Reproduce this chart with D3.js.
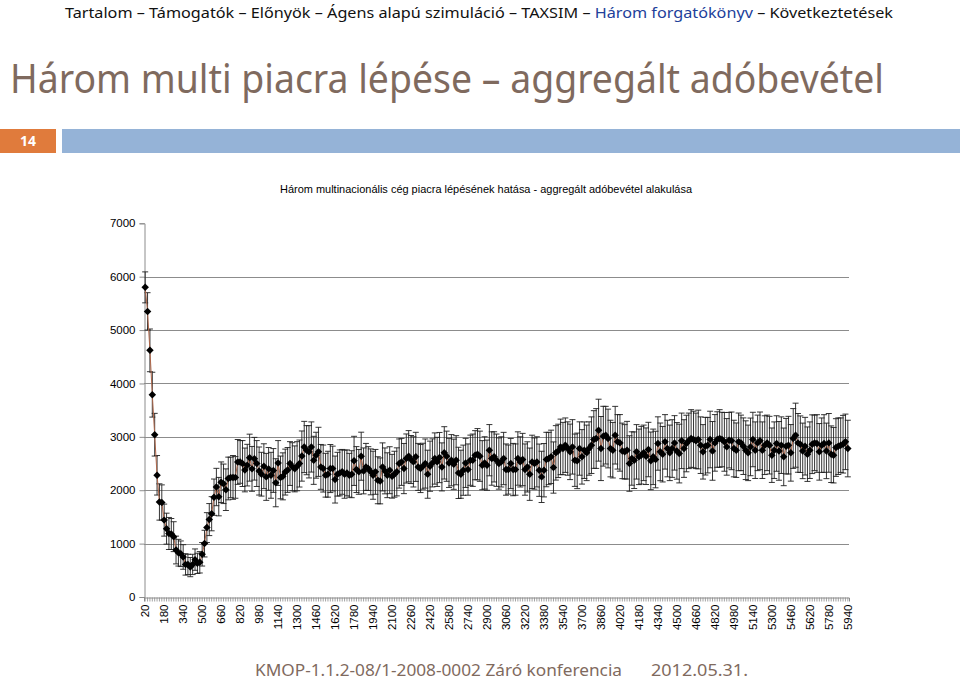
<!DOCTYPE html>
<html>
<head>
<meta charset="utf-8">
<script src="https://cdn.jsdelivr.net/npm/d3@7"></script>
<style>
  html, body { margin: 0; padding: 0; background: #fff; }
  svg { display: block; }
</style>
</head>
<body>
<svg id="chart" width="960" height="681"></svg>
<script>
// ---------- data ----------
const navItems = ["Tartalom", "Támogatók", "Előnyök", "Ágens alapú szimuláció", "TAXSIM", "Három forgatókönyv", "Következtetések"];
const navActive = "Három forgatókönyv";
const slideTitle = "Három multi piacra lépése – aggregált adóbevétel";
const slideNumber = "14";
const chartTitle = "Három multinacionális cég piacra lépésének hatása - aggregált adóbevétel alakulása";
const footerText = "KMOP-1.1.2-08/1-2008-0002 Záró konferencia";
const footerDate = "2012.05.31.";

const categories = d3.range(20, 5941, 20).map(String);          // 20 .. 5940
const xTickLabels = d3.range(20, 5941, 160).map(String);        // every 8th label
const yTicks = [0, 1000, 2000, 3000, 4000, 5000, 6000, 7000];
const gridValues = [1000, 2000, 3000, 4000, 5000, 6000];

const revenue = [
  5800,5350,4620,3790,3040,2280,1780,1770,1440,1280,
  1190,1180,1130,880,830,810,750,610,610,560,
  610,700,630,650,800,1000,1300,1450,1560,1870,
  2060,1880,2150,2120,2010,2220,2240,2240,2240,2530,
  2530,2500,2380,2470,2610,2400,2590,2500,2360,2300,
  2450,2250,2400,2280,2370,2140,2510,2240,2260,2340,
  2380,2500,2440,2400,2450,2500,2640,2810,2750,2720,
  2810,2560,2656,2719,2437,2406,2281,2300,2406,2406,
  2200,2300,2325,2344,2300,2325,2281,2300,2550,2387,
  2344,2637,2362,2437,2406,2344,2281,2344,2187,2175,
  2437,2362,2281,2375,2262,2300,2344,2500,2531,2406,
  2594,2637,2575,2531,2625,2437,2406,2450,2500,2300,
  2450,2512,2594,2531,2612,2437,2700,2637,2512,2562,
  2487,2562,2325,2300,2375,2512,2387,2562,2562,2656,
  2675,2637,2469,2512,2469,2750,2594,2625,2562,2500,
  2531,2594,2387,2387,2500,2387,2387,2594,2531,2575,
  2387,2437,2300,2531,2500,2531,2375,2250,2375,2575,
  2594,2625,2425,2700,2737,2812,2781,2844,2781,2719,
  2812,2562,2550,2781,2625,2750,2700,2781,2844,2950,
  2969,3125,2781,3012,3031,2969,2781,2750,3031,2906,
  2887,2737,2719,2750,2500,2594,2562,2719,2625,2656,
  2700,2637,2762,2550,2625,2575,2875,2719,2675,2906,
  2781,2700,2781,2887,2737,2687,2925,2781,2875,2925,
  2969,2950,2925,2950,2844,2719,2825,2844,2950,2737,
  2887,2950,2969,2950,2906,2812,2937,2925,2781,2750,
  2906,2887,2825,2750,2700,2812,2950,2750,2887,2925,
  2750,2844,2887,2844,2656,2750,2875,2737,2844,2625,
  2825,2844,2700,2969,3031,2887,2862,2737,2825,2675,
  2750,2862,2887,2875,2719,2844,2875,2737,2887,2675,
  2656,2800,2825,2844,2862,2906,2781
];

const stdDev = [
  290,350,400,420,400,370,340,330,300,290,
  300,290,280,260,250,240,230,200,190,180,
  190,200,190,200,220,250,280,300,320,340,
  350,360,380,370,390,400,380,410,390,420,
  400,430,410,390,440,420,400,430,450,410,
  420,440,400,430,410,450,420,400,440,430,
  420,410,450,430,460,440,470,480,460,490,
  470,450,430,460,420,440,410,430,450,420,
  440,410,430,420,450,430,410,440,460,430,
  420,450,430,440,410,430,450,420,440,430,
  450,430,420,440,410,430,450,460,440,470,
  460,480,450,470,460,440,450,430,460,450,
  470,450,480,460,470,450,490,470,460,480,
  470,460,480,450,470,460,480,470,490,460,
  480,470,460,490,470,480,500,470,490,480,
  470,490,480,460,470,490,480,500,470,490,
  480,470,490,500,480,470,490,480,500,510,
  490,500,480,510,500,520,490,510,500,520,
  510,490,520,500,510,530,520,500,530,540,
  560,580,600,560,540,550,530,520,540,510,
  530,520,510,540,520,500,530,510,520,540,
  520,530,510,540,520,530,500,540,520,510,
  530,520,540,510,530,550,520,540,530,520,
  540,530,520,550,530,510,540,520,530,550,
  530,520,540,510,550,530,520,540,530,510,
  540,520,530,550,520,540,510,530,520,540,
  530,550,520,540,510,530,520,550,530,540,
  520,540,530,560,600,550,530,520,540,510,
  530,550,520,540,530,510,540,520,550,530,
  520,540,530,510,540,520,530
];

const series = categories.map((c, i) => ({ cat: c, v: revenue[i], e: stdDev[i] }));

// ---------- drawing ----------
const svg = d3.select("#chart");
const brown = "#7f6a5e";

// navigation line
const nav = svg.append("text")
  .attr("x", 65).attr("y", 18)
  .attr("font-family", "'Noto Sans', 'DejaVu Sans', sans-serif")
  .attr("font-size", 15)
  .attr("textLength", 828)
  .attr("lengthAdjust", "spacingAndGlyphs");
navItems.forEach((item, i) => {
  nav.append("tspan")
    .attr("fill", item === navActive ? "#22409a" : "#111")
    .text(item);
  if (i < navItems.length - 1) nav.append("tspan").attr("fill", "#111").text(" – ");
});

// slide title
svg.append("text")
  .attr("x", 10).attr("y", 93)
  .attr("font-family", "'Noto Sans', 'DejaVu Sans', sans-serif")
  .attr("font-size", 40)
  .attr("fill", brown)
  .attr("textLength", 874)
  .attr("lengthAdjust", "spacingAndGlyphs")
  .text(slideTitle);

// number bar
svg.append("rect").attr("x", 0).attr("y", 129).attr("width", 56).attr("height", 24).attr("fill", "#e07b3c");
svg.append("rect").attr("x", 62).attr("y", 129).attr("width", 898).attr("height", 24).attr("fill", "#95b3d7");
svg.append("text")
  .attr("x", 28).attr("y", 146)
  .attr("text-anchor", "middle")
  .attr("font-family", "'Noto Sans', 'DejaVu Sans', sans-serif")
  .attr("font-weight", "bold")
  .attr("font-size", 14)
  .attr("fill", "#fff")
  .text(slideNumber);

// chart title
svg.append("text")
  .attr("x", 486).attr("y", 193)
  .attr("text-anchor", "middle")
  .attr("font-family", "'Liberation Sans', Arial, sans-serif")
  .attr("font-size", 10.5)
  .attr("fill", "#000")
  .attr("textLength", 412)
  .attr("lengthAdjust", "spacingAndGlyphs")
  .text(chartTitle);

// scales
const x = d3.scaleBand().domain(categories).range([144, 849]).padding(0);
const y = d3.scaleLinear().domain([0, 7000]).range([597, 223.3]);
const cx = d => x(d) + x.bandwidth() / 2;

// gridlines
svg.append("g").selectAll("line").data(gridValues).join("line")
  .attr("x1", 144).attr("x2", 849)
  .attr("y1", d => Math.round(y(d)) + 0.5).attr("y2", d => Math.round(y(d)) + 0.5)
  .attr("stroke", "#8c8c8c").attr("stroke-width", 1);

// y axis
const yAxis = d3.axisLeft(y).tickValues(yTicks).tickSize(5).tickPadding(4).tickFormat(d3.format("d"));
const gy = svg.append("g").attr("transform", "translate(144.5,0)").call(yAxis);
gy.select(".domain").attr("stroke", "#8c8c8c");
gy.selectAll(".tick line").attr("stroke", "#8c8c8c");
gy.selectAll("text").attr("font-family", "'Liberation Sans', Arial, sans-serif").attr("font-size", 11.5).attr("fill", "#000");

// x axis
const xAxis = d3.axisBottom(x).tickSize(4).tickPadding(3)
  .tickFormat(d => xTickLabels.includes(d) ? d : "");
const gx = svg.append("g").attr("transform", "translate(0,597.5)").call(xAxis);
gx.select(".domain").attr("stroke", "#8c8c8c");
gx.selectAll(".tick line").attr("stroke", "#8c8c8c").attr("stroke-width", 0.8);
gx.selectAll("text")
  .attr("font-family", "'Liberation Sans', Arial, sans-serif")
  .attr("font-size", 11.5).attr("fill", "#000")
  .attr("text-anchor", "end")
  .attr("transform", "rotate(-90)")
  .attr("x", -7).attr("y", 0).attr("dy", "0.35em");

// error bars
const eb = svg.append("g").attr("stroke", "#1e1e1e").attr("stroke-width", 0.9);
eb.selectAll("line.v").data(series).join("line").attr("class", "v")
  .attr("x1", d => cx(d.cat)).attr("x2", d => cx(d.cat))
  .attr("y1", d => y(d.v + d.e)).attr("y2", d => y(Math.max(0, d.v - d.e)));
eb.selectAll("line.t").data(series).join("line").attr("class", "t")
  .attr("x1", d => cx(d.cat) - 3).attr("x2", d => cx(d.cat) + 3)
  .attr("y1", d => y(d.v + d.e)).attr("y2", d => y(d.v + d.e));
eb.selectAll("line.b").data(series).join("line").attr("class", "b")
  .attr("x1", d => cx(d.cat) - 3).attr("x2", d => cx(d.cat) + 3)
  .attr("y1", d => y(Math.max(0, d.v - d.e))).attr("y2", d => y(Math.max(0, d.v - d.e)));

// line
svg.append("path").datum(series)
  .attr("fill", "none").attr("stroke", "#b0674a").attr("stroke-width", 1)
  .attr("d", d3.line().x(d => cx(d.cat)).y(d => y(d.v)));

// markers
const diamond = d3.symbol().type(d3.symbolSquare).size(28);
svg.append("g").selectAll("path").data(series).join("path")
  .attr("d", diamond)
  .attr("transform", d => `translate(${cx(d.cat)},${y(d.v)}) rotate(45)`)
  .attr("fill", "#000");

// footer
svg.append("text")
  .attr("x", 255).attr("y", 676)
  .attr("font-family", "'Noto Sans', 'DejaVu Sans', sans-serif")
  .attr("font-size", 17).attr("fill", brown)
  .attr("textLength", 367).attr("lengthAdjust", "spacingAndGlyphs")
  .text(footerText);
svg.append("text")
  .attr("x", 651).attr("y", 676)
  .attr("font-family", "'Noto Sans', 'DejaVu Sans', sans-serif")
  .attr("font-size", 17).attr("fill", brown)
  .attr("textLength", 97).attr("lengthAdjust", "spacingAndGlyphs")
  .text(footerDate);
</script>
</body>
</html>
